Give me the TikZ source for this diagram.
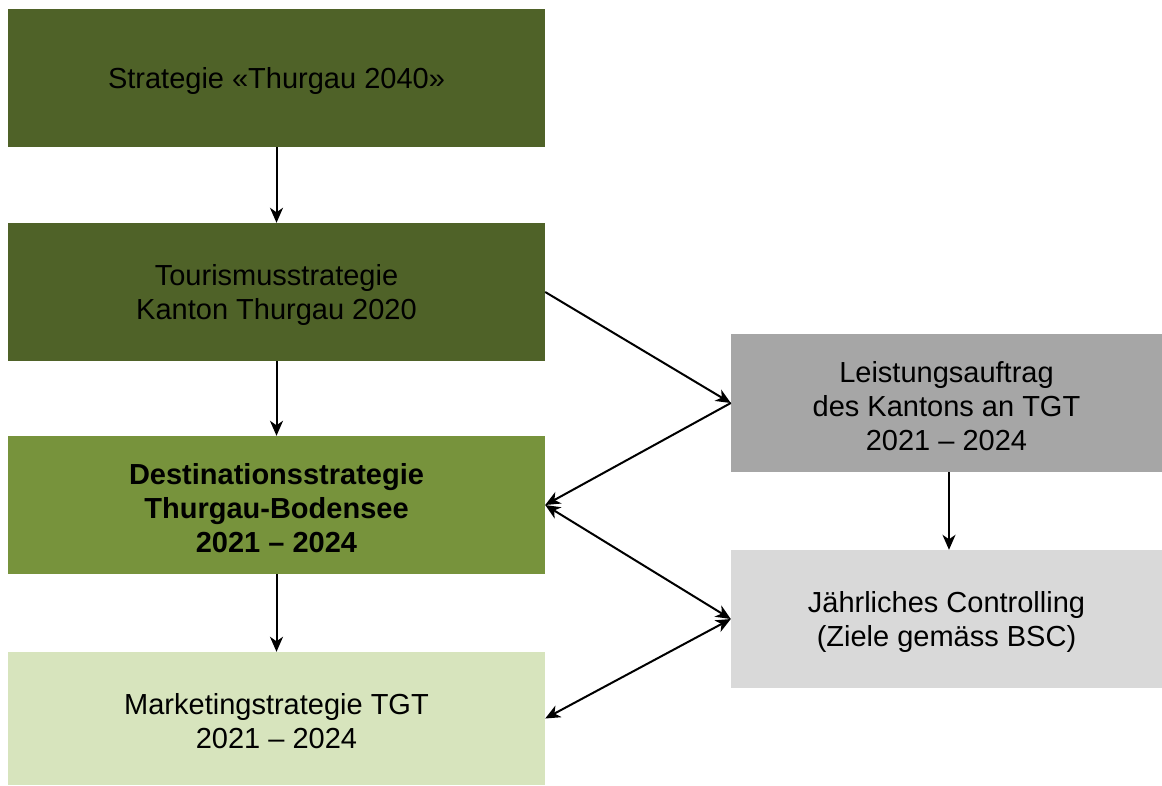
\documentclass[tikz,border=0pt]{standalone}
\usepackage{fontspec}
\setmainfont{Liberation Sans}
\usetikzlibrary{arrows.meta}
\definecolor{cdark}{HTML}{4F6228}
\definecolor{cmid}{HTML}{77933C}
\definecolor{clight}{HTML}{D7E4BD}
\definecolor{cgray}{HTML}{A6A6A6}
\definecolor{clgray}{HTML}{D9D9D9}
\begin{document}
\begin{tikzpicture}[x=1pt,y=-1pt,
  txt/.style={inner sep=0pt,align=center,text=black,
    font=\fontsize{29}{34}\selectfont},
  box/.style={rectangle,inner sep=0pt},
  leftbox/.style={box,minimum width=537pt,minimum height=138pt},
  rightbox/.style={box,minimum width=431pt,minimum height=138pt},
  tip/.tip={Stealth[length=15pt,width=13pt,inset=4.5pt]},
  conn/.style={line width=2pt,-tip},
  conn2/.style={line width=2pt,tip-tip}]
\useasboundingbox (0,0) rectangle (1162,785);
\node[leftbox,fill=cdark,label={[txt,yshift=-3pt]center:Strategie «Thurgau 2040»}] (s) at (276.5,78) {};
\node[leftbox,fill=cdark,label={[txt,yshift=-3pt]center:Tourismusstrategie\\Kanton Thurgau 2020}] (t) at (276.5,292) {};
\node[leftbox,fill=cmid,label={[txt,yshift=-3pt,font=\fontsize{29}{34}\selectfont\bfseries]center:Destinationsstrategie\\Thurgau-Bodensee\\2021 – 2024}] (d) at (276.5,505) {};
\node[box,fill=clight,minimum width=537pt,minimum height=133pt,label={[txt,yshift=-3pt]center:Marketingstrategie TGT\\2021 – 2024}] (m) at (276.5,718.5) {};
\node[rightbox,fill=cgray,label={[txt,yshift=-3pt]center:Leistungsauftrag\\des Kantons an TGT\\2021 – 2024}] (l) at (946.5,403) {};
\node[rightbox,fill=clgray,label={[txt,yshift=-3pt]center:Jährliches Controlling\\(Ziele gemäss BSC)}] (c) at (946.5,619) {};
\draw[conn] (s) -- (t);
\draw[conn] (t) -- (d);
\draw[conn] (d) -- (m);
\draw[conn] (l.south -| 949,0) -- (c.north -| 949,0);
\draw[conn] (t.east) -- (l.west);
\draw[conn] (l.west) -- (d.east);
\draw[conn2] (d.east) -- (c.west);
\draw[conn2] (c.west) -- (m.east);
\end{tikzpicture}
\end{document}
